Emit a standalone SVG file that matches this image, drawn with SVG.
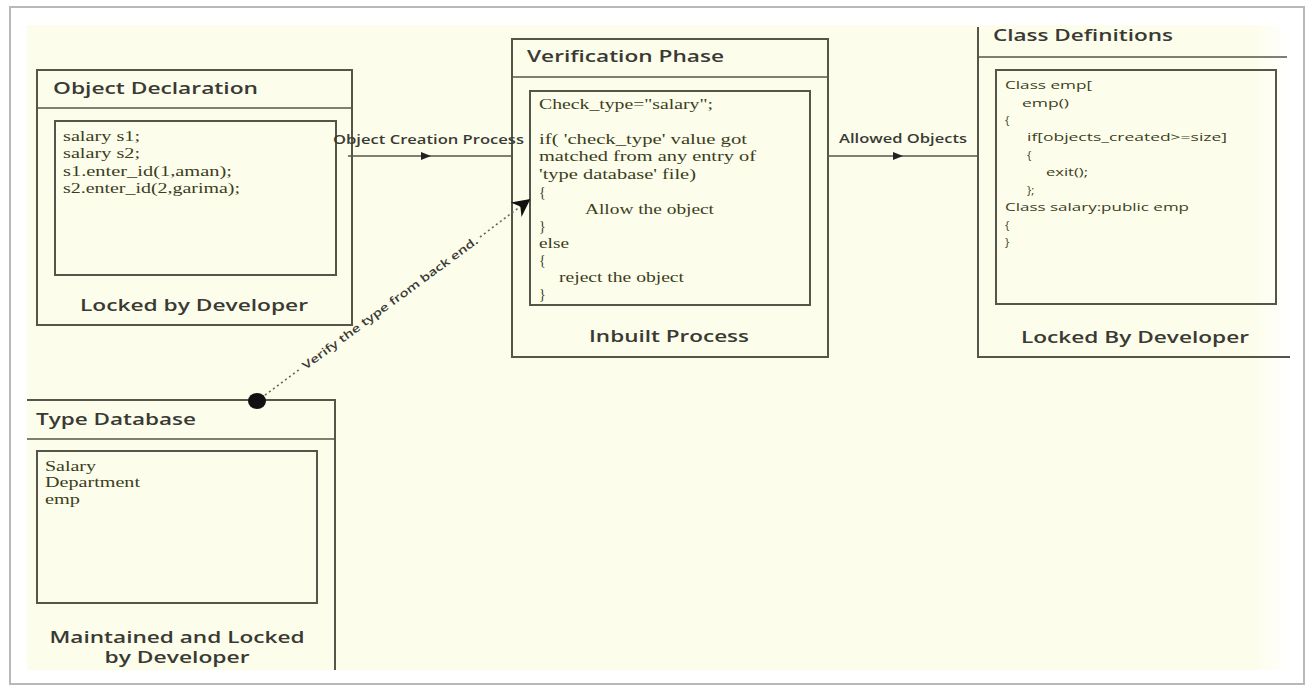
<svg xmlns="http://www.w3.org/2000/svg" width="1308" height="686" viewBox="0 0 1308 686">
<defs>
<style>
.box{fill:none;stroke:#55554a;stroke-width:2}
.ln{fill:none;stroke:#55554a;stroke-width:1.6}
.title{font-family:"Open Sans","DejaVu Sans",sans-serif;font-weight:600;font-size:16px;fill:#3a3a34}
.foot{font-family:"Open Sans","DejaVu Sans",sans-serif;font-weight:600;font-size:16px;fill:#3a3a34;text-anchor:middle}
.code{font-family:"Liberation Serif","Times New Roman",serif;font-size:14px;fill:#3b3d22}
.scode{font-family:"Open Sans","DejaVu Sans",sans-serif;font-size:11.5px;fill:#3b3d22}
.lbl{font-family:"Open Sans","DejaVu Sans",sans-serif;font-weight:600;font-size:12px;fill:#3a3a34}
</style>
<marker id="mid" viewBox="0 0 10 10" refX="5" refY="5" markerWidth="10" markerHeight="10" markerUnits="userSpaceOnUse" orient="auto">
<path d="M0,1 L10,5 L0,9 z" fill="#222"/>
</marker>
<marker id="big" viewBox="0 0 10 10" refX="9" refY="5" markerWidth="22" markerHeight="18" markerUnits="userSpaceOnUse" orient="auto">
<path d="M0,0 L10,5 L0,10 L3,5 z" fill="#111"/>
</marker>
<linearGradient id="fade" x1="0" x2="1" y1="0" y2="0">
<stop offset="0" stop-color="#fdfdeb"/>
<stop offset="0.97" stop-color="#fdfdeb"/>
<stop offset="1" stop-color="#ffffff"/>
</linearGradient>
</defs>

<rect x="10" y="7" width="1294" height="677" fill="#ffffff" stroke="#b8b8b8" stroke-width="2"/>
<rect x="27" y="25" width="1263" height="645" fill="url(#fade)"/>

<g id="object-declaration">
<rect class="box" x="37" y="70" width="315" height="255"/>
<line class="ln" x1="37" y1="108" x2="352" y2="108"/>
<text class="title" x="53" y="94" textLength="205" lengthAdjust="spacingAndGlyphs">Object Declaration</text>
<rect class="box" x="55" y="121" width="281" height="154"/>
<text class="code" x="63" y="141" textLength="77" lengthAdjust="spacingAndGlyphs">salary s1;</text>
<text class="code" x="63" y="158" textLength="77" lengthAdjust="spacingAndGlyphs">salary s2;</text>
<text class="code" x="63" y="176" textLength="169" lengthAdjust="spacingAndGlyphs">s1.enter_id(1,aman);</text>
<text class="code" x="63" y="193" textLength="177" lengthAdjust="spacingAndGlyphs">s2.enter_id(2,garima);</text>
<text class="foot" x="194" y="311" textLength="228" lengthAdjust="spacingAndGlyphs">Locked by Developer</text>
</g>

<g id="verification-phase">
<rect class="box" x="512" y="39" width="316" height="318"/>
<line class="ln" x1="512" y1="77" x2="828" y2="77"/>
<text class="title" x="527" y="62" textLength="197" lengthAdjust="spacingAndGlyphs">Verification Phase</text>
<rect class="box" x="530" y="91" width="280" height="214"/>
<text class="code" x="539" y="109" textLength="174" lengthAdjust="spacingAndGlyphs">Check_type="salary";</text>
<text class="code" x="539" y="144" textLength="208" lengthAdjust="spacingAndGlyphs">if( 'check_type'  value got</text>
<text class="code" x="539" y="161" textLength="217" lengthAdjust="spacingAndGlyphs">matched  from any entry of</text>
<text class="code" x="539" y="179" textLength="157" lengthAdjust="spacingAndGlyphs">'type database' file)</text>
<text class="code" x="539" y="197">{</text>
<text class="code" x="585" y="214" textLength="129" lengthAdjust="spacingAndGlyphs">Allow the object</text>
<text class="code" x="539" y="231">}</text>
<text class="code" x="539" y="248" textLength="30" lengthAdjust="spacingAndGlyphs">else</text>
<text class="code" x="539" y="265">{</text>
<text class="code" x="559" y="282" textLength="125" lengthAdjust="spacingAndGlyphs">reject the object</text>
<text class="code" x="539" y="299">}</text>
<text class="foot" x="669" y="342" textLength="160" lengthAdjust="spacingAndGlyphs">Inbuilt Process</text>
</g>

<g id="class-definitions">
<path class="box" d="M978,27 L978,357 L1290,357"/>
<line class="ln" x1="978" y1="57" x2="1287" y2="57"/>
<text class="title" x="993" y="41" textLength="180" lengthAdjust="spacingAndGlyphs">Class Definitions</text>
<rect class="box" x="996" y="70" width="280" height="234"/>
<text class="scode" x="1005" y="89" textLength="87" lengthAdjust="spacingAndGlyphs">Class emp[</text>
<text class="scode" x="1022" y="107" textLength="47" lengthAdjust="spacingAndGlyphs">emp()</text>
<text class="scode" x="1005" y="124">{</text>
<text class="scode" x="1027" y="141" textLength="200" lengthAdjust="spacingAndGlyphs">if[objects_created&gt;=size]</text>
<text class="scode" x="1027" y="159">{</text>
<text class="scode" x="1046" y="176" textLength="42" lengthAdjust="spacingAndGlyphs">exit();</text>
<text class="scode" x="1027" y="194">};</text>
<text class="scode" x="1005" y="211" textLength="184" lengthAdjust="spacingAndGlyphs">Class salary:public emp</text>
<text class="scode" x="1005" y="229">{</text>
<text class="scode" x="1005" y="246">}</text>
<text class="foot" x="1135" y="343" textLength="228" lengthAdjust="spacingAndGlyphs">Locked By Developer</text>
</g>

<g id="type-database">
<path class="box" d="M27,400 L335,400 L335,670"/>
<line class="ln" x1="27" y1="439" x2="335" y2="439"/>
<text class="title" x="36" y="425" textLength="160" lengthAdjust="spacingAndGlyphs">Type Database</text>
<rect class="box" x="37" y="451" width="280" height="152"/>
<text class="code" x="45" y="471" textLength="51" lengthAdjust="spacingAndGlyphs">Salary</text>
<text class="code" x="45" y="487" textLength="95" lengthAdjust="spacingAndGlyphs">Department</text>
<text class="code" x="45" y="504" textLength="35" lengthAdjust="spacingAndGlyphs">emp</text>
<text class="foot" x="177" y="643" textLength="255" lengthAdjust="spacingAndGlyphs">Maintained and Locked</text>
<text class="foot" x="177" y="663" textLength="145" lengthAdjust="spacingAndGlyphs">by Developer</text>
</g>

<g id="connectors">
<path class="ln" d="M348,156 L426,156 L512,156" marker-mid="url(#mid)"/>
<text class="lbl" x="333" y="144" textLength="191" lengthAdjust="spacingAndGlyphs">Object Creation Process</text>
<path class="ln" d="M828,156 L898,156 L978,156" marker-mid="url(#mid)"/>
<text class="lbl" x="839" y="143" textLength="128" lengthAdjust="spacingAndGlyphs">Allowed Objects</text>
<path d="M257,401 L300,369" fill="none" stroke="#666" stroke-width="1.6" stroke-dasharray="2,3"/>
<path d="M480,237 L529,200" fill="none" stroke="#666" stroke-width="1.6" stroke-dasharray="2,3" marker-end="url(#big)"/>
<text class="lbl" x="390" y="303" dy="4" text-anchor="middle" transform="rotate(-36.4 390 303)" textLength="215" lengthAdjust="spacingAndGlyphs" style="font-size:11px">Verify the type from back end.</text>
<ellipse cx="257" cy="401" rx="9" ry="8" fill="#111"/>
</g>
</svg>
